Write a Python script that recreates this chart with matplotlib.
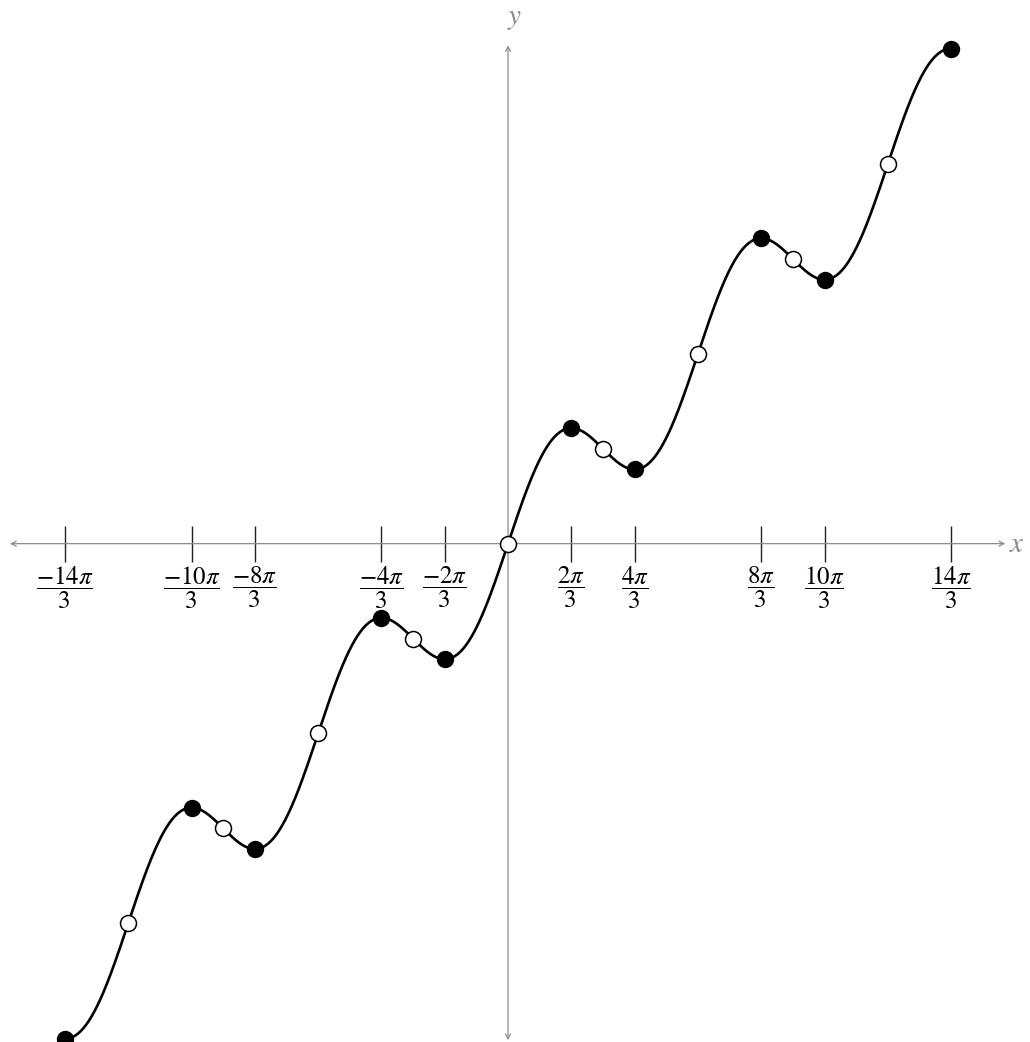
"""Plot of f(x) = x/2 + sin(x) with its turning and inflection points."""
import numpy as np
import matplotlib
matplotlib.use("Agg")
import matplotlib.pyplot as plt

plt.rcParams["mathtext.fontset"] = "stix"

# the plotted function
def f(x):
    return x / 2 + np.sin(x)

# domain of the curve (a little past the outer turning points)
X_MIN, X_MAX = -14 * np.pi / 3 - 0.15, 14 * np.pi / 3 + 0.15

# turning points (filled), in multiples of pi/3
crit_k = [-14, -10, -8, -4, -2, 2, 4, 8, 10, 14]
# inflection points (open), in multiples of pi
infl_k = [-4, -3, -2, -1, 0, 1, 2, 3, 4]

# x tick labels, in multiples of pi/3
tick_k = [-14, -10, -8, -4, -2, 2, 4, 8, 10, 14]
tick_labels = [r"$\dfrac{%s%d\pi}{3}$" % ("-" if k < 0 else "", abs(k))
               for k in tick_k]

AXIS_GRAY = "#8c8c8c"

fig = plt.figure(figsize=(10.30, 10.42), dpi=100)
ax = fig.add_axes([0, 0, 1, 1])
ax.set_xlim(-16.81, 17.27)
ax.set_ylim(-8.25, 9.0)
ax.axis("off")

# axes with arrows
ax.annotate("", xy=(16.45, 0), xytext=(-16.48, 0),
            arrowprops=dict(arrowstyle="<->,head_length=0.35,head_width=0.18",
                            color=AXIS_GRAY, lw=0.9, shrinkA=0, shrinkB=0))
ax.annotate("", xy=(0, 8.25), xytext=(0, -8.22),
            arrowprops=dict(arrowstyle="<->,head_length=0.35,head_width=0.18",
                            color=AXIS_GRAY, lw=0.9, shrinkA=0, shrinkB=0))
ax.text(16.85, 0, r"$x$", color=AXIS_GRAY, fontsize=21, va="center", ha="center")
ax.text(0.2, 8.7, r"$y$", color=AXIS_GRAY, fontsize=21, va="center", ha="center")

# ticks and labels
tick_x = np.array(tick_k) * np.pi / 3
ax.vlines(tick_x, -0.31, 0.3, color="#222222", lw=1.0)
for tx, lab in zip(tick_x, tick_labels):
    ax.text(tx, -0.72, lab, fontsize=18, ha="center", va="center")

# curve
xs = np.linspace(X_MIN, X_MAX, 2000)
ax.plot(xs, f(xs), color="black", lw=1.9, zorder=3)

# points
cx = np.array(crit_k) * np.pi / 3
ax.plot(cx, f(cx), "o", ms=11.5, color="black", zorder=4)
ix = np.array(infl_k) * np.pi
ax.plot(ix, f(ix), "o", ms=11.5, mfc="white", mec="black", mew=1.1, zorder=4)

fig.savefig("out.png", dpi=100)
